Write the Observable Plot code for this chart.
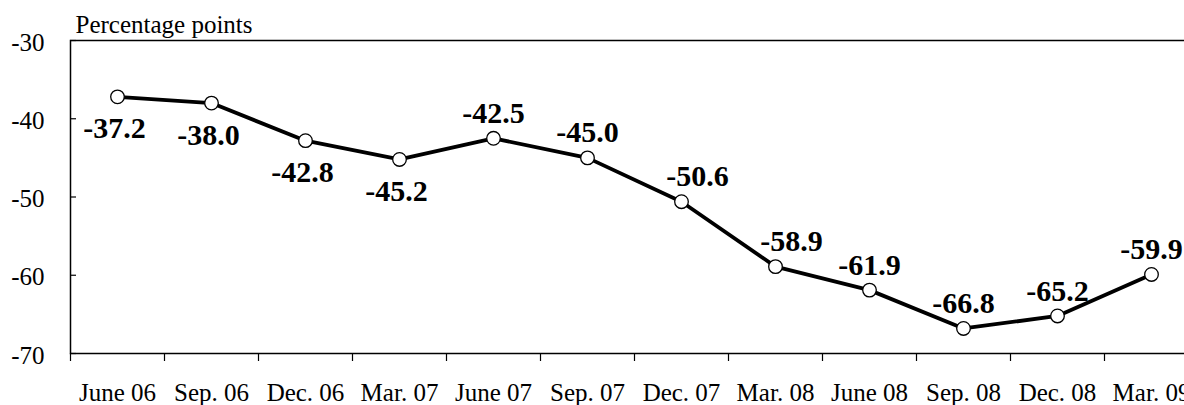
<!DOCTYPE html>
<html><head><meta charset="utf-8">
<script src="https://cdn.jsdelivr.net/npm/d3@7"></script>
<script src="https://cdn.jsdelivr.net/npm/@observablehq/plot@0.6"></script>
<style>
html,body{margin:0;padding:0;background:#fff;overflow:hidden;width:1184px;height:405px}
#chart svg{max-width:none !important;width:1198px !important;height:405px !important;display:block}
</style>
</head><body><div id="chart"></div>
<script>
const quarters = ["June 06","Sep. 06","Dec. 06","Mar. 07","June 07","Sep. 07","Dec. 07","Mar. 08","June 08","Sep. 08","Dec. 08","Mar. 09"];
const values = [-37.2,-38.0,-42.8,-45.2,-42.5,-45.0,-50.6,-58.9,-61.9,-66.8,-65.2,-59.9];
const labelPlacement = ["below","below","below","below","above","above","above-right","above-right","above","above","above","above"];
const yTicks = [-70,-60,-50,-40,-30];
const yLabel = "Percentage points";

const data = quarters.map((q, i) => ({q, i: i + 0.5, v: values[i], place: labelPlacement[i]}));
const offsets = {below: {dx: -3, dy: 32}, above: {dx: 0, dy: -25}, "above-right": {dx: 16, dy: -25}};
const font = "'Liberation Serif','Times New Roman',Times,serif";

const labelMarks = Object.entries(offsets).map(([place, o]) =>
  Plot.text(data.filter(d => d.place === place), {
    x: "i", y: "v", text: d => d.v.toFixed(1), dx: o.dx, dy: o.dy,
    fontWeight: "bold", fontSize: 30, fontFamily: font, fill: "#000"
  })
);

const chart = Plot.plot({
  width: 1198, height: 405,
  marginTop: 40, marginLeft: 70, marginRight: 0, marginBottom: 52,
  style: {fontFamily: font, fontSize: "25px", color: "#000", background: "#fff"},
  x: {type: "linear", domain: [0, quarters.length], label: null},
  y: {domain: [-70, -30], label: null},
  marks: [
    Plot.frame({stroke: "#000", strokeWidth: 1.5}),
    Plot.axisX(d3.range(quarters.length + 1), {tickSize: 8, tickFormat: () => "", strokeWidth: 1.2}),
    Plot.axisX(data.map(d => d.i), {tickSize: 0, tickPadding: 30, tickFormat: d => quarters[Math.floor(d)], fontSize: 25, fontFamily: font}),
    Plot.axisY(yTicks, {tickSize: 6, dx: 6, tickFormat: () => "", strokeWidth: 1.2}),
    Plot.axisY(yTicks, {tickSize: 0, tickPadding: 26, dy: 2, tickFormat: d => `${d}`, fontSize: 25, fontFamily: font}),
    Plot.text([yLabel], {frameAnchor: "top-left", dx: 5, dy: -8, lineAnchor: "bottom", textAnchor: "start", fontSize: 25, fontFamily: font, fill: "#000"}),
    Plot.line(data, {x: "i", y: "v", stroke: "#000", strokeWidth: 3.8}),
    Plot.dot(data, {x: "i", y: "v", r: 6.8, fill: "#fff", stroke: "#000", strokeWidth: 1.3}),
    ...labelMarks
  ]
});
document.getElementById("chart").appendChild(chart);
</script>
</body></html>
